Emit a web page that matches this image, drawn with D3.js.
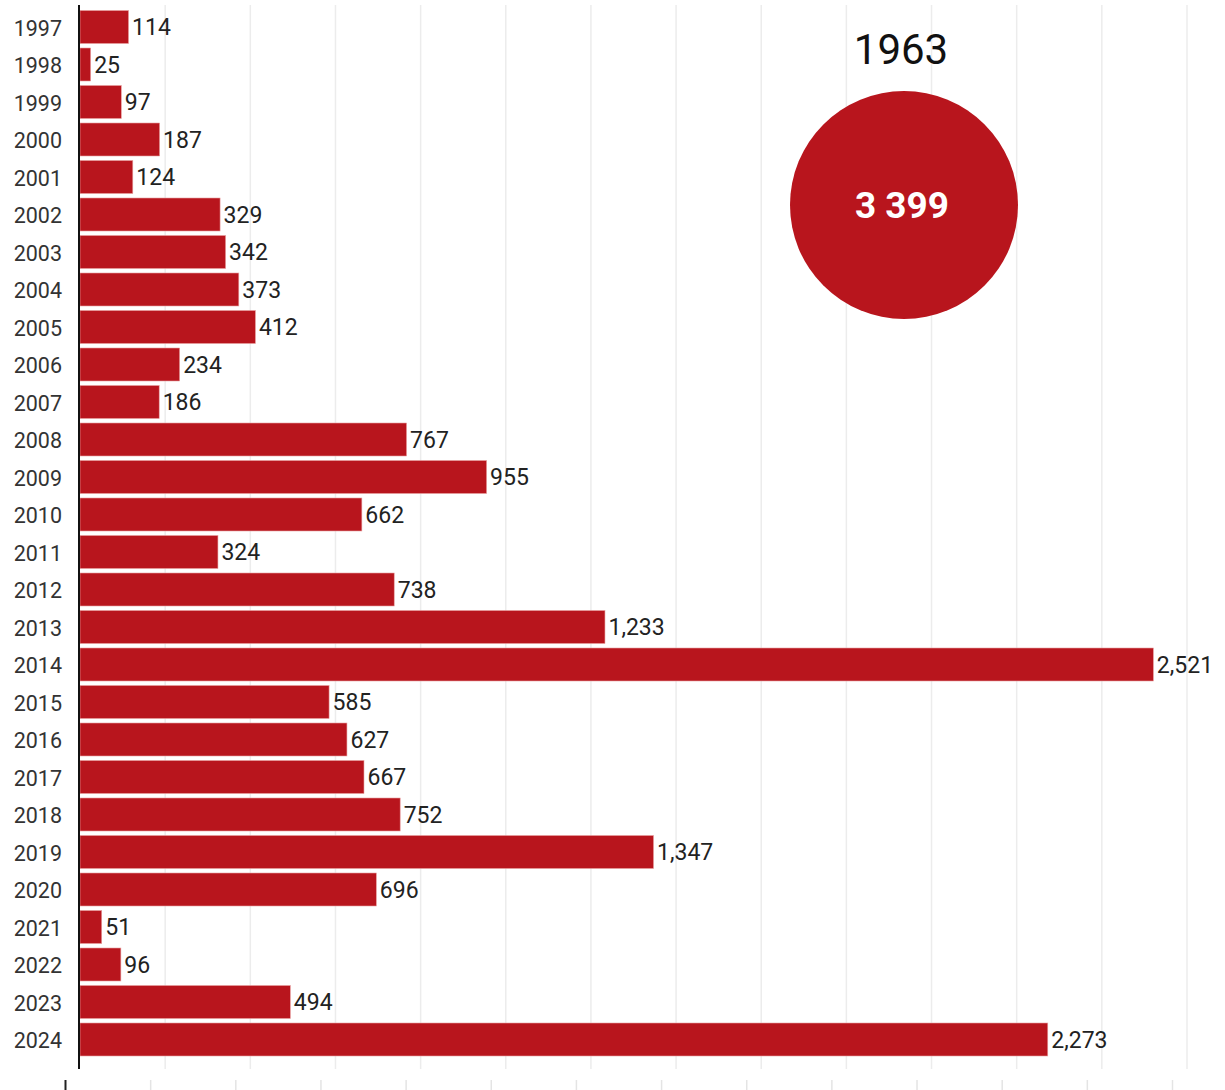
<!DOCTYPE html>
<html>
<head>
<meta charset="utf-8">
<script src="https://cdn.jsdelivr.net/npm/d3@7"></script>
<style>
  body { margin: 0; background: #fff; }
  svg { display: block; font-family: Roboto, "Noto Sans", sans-serif; }
</style>
</head>
<body>
<svg id="chart" width="1225" height="1090"></svg>
<script>
const years = ["1997","1998","1999","2000","2001","2002","2003","2004","2005","2006","2007","2008","2009","2010","2011","2012","2013","2014","2015","2016","2017","2018","2019","2020","2021","2022","2023","2024"];
const values = [114,25,97,187,124,329,342,373,412,234,186,767,955,662,324,738,1233,2521,585,627,667,752,1347,696,51,96,494,2273];
const gridTicks = [0,200,400,600,800,1000,1200,1400,1600,1800,2000,2200,2400,2600];
const bubbleYear = "1963";
const bubbleLabel = "3 399";

const svg = d3.select("#chart");
const x = d3.scaleLinear().domain([0, 2600]).range([80, 1187]);
const y = d3.scaleBand().domain(years).range([8.25, 1058.25]).paddingInner(0.12).paddingOuter(0.06);

// gridlines
svg.append("g").selectAll("line").data(gridTicks.slice(1)).join("line")
  .attr("x1", d => x(d)).attr("x2", d => x(d))
  .attr("y1", 5).attr("y2", 1069)
  .attr("stroke", "#ececec").attr("stroke-width", 1.5);

// bottom axis (ticks only)
const bottom = svg.append("g").attr("transform", "translate(-15,1080)")
  .call(d3.axisBottom(x).tickValues(gridTicks).tickSize(10).tickFormat(""));
bottom.select(".domain").remove();
bottom.selectAll(".tick line").attr("stroke", (d,i) => i === 0 ? "#222" : "#e4e4e4").attr("stroke-width", (d,i) => i === 0 ? 2 : 1.5);

// bars
svg.append("g").selectAll("rect").data(values).join("rect")
  .attr("x", x(0))
  .attr("y", (d,i) => y(years[i]))
  .attr("width", d => x(d) - x(0))
  .attr("height", y.bandwidth())
  .attr("fill", "#b8151d")
  .attr("stroke", "#e8a0a0").attr("stroke-width", 0.6);

// value labels
const fmt = d3.format(",");
svg.append("g").selectAll("text").data(values).join("text")
  .attr("x", d => x(d) + 3.5)
  .attr("y", (d,i) => y(years[i]) + y.bandwidth()/2)
  .attr("dy", "0.36em")
  .attr("font-size", 23)
  .attr("fill", "#222")
  .text(d => fmt(d));

// y axis
const yAxis = svg.append("g").attr("transform", "translate(79,0)")
  .call(d3.axisLeft(y).tickSize(0).tickPadding(17));
yAxis.select(".domain").remove();
yAxis.selectAll("text").attr("font-size", 21.5).attr("fill", "#333").attr("dy", "0.4em").attr("font-family", "Roboto, sans-serif");
svg.append("line").attr("x1", 79).attr("x2", 79).attr("y1", 5).attr("y2", 1069)
  .attr("stroke", "#111").attr("stroke-width", 2);

// bubble
svg.append("text").attr("x", 901).attr("y", 49).attr("text-anchor", "middle").attr("dy", "0.36em")
  .attr("font-size", 42).attr("fill", "#111").text(bubbleYear);
svg.append("circle").attr("cx", 904).attr("cy", 205).attr("r", 114).attr("fill", "#b8151d");
svg.append("text").attr("x", 902).attr("y", 205).attr("text-anchor", "middle").attr("dy", "0.36em")
  .attr("font-size", 37).attr("font-weight", "bold").attr("fill", "#fff").text(bubbleLabel);
</script>
</body>
</html>
